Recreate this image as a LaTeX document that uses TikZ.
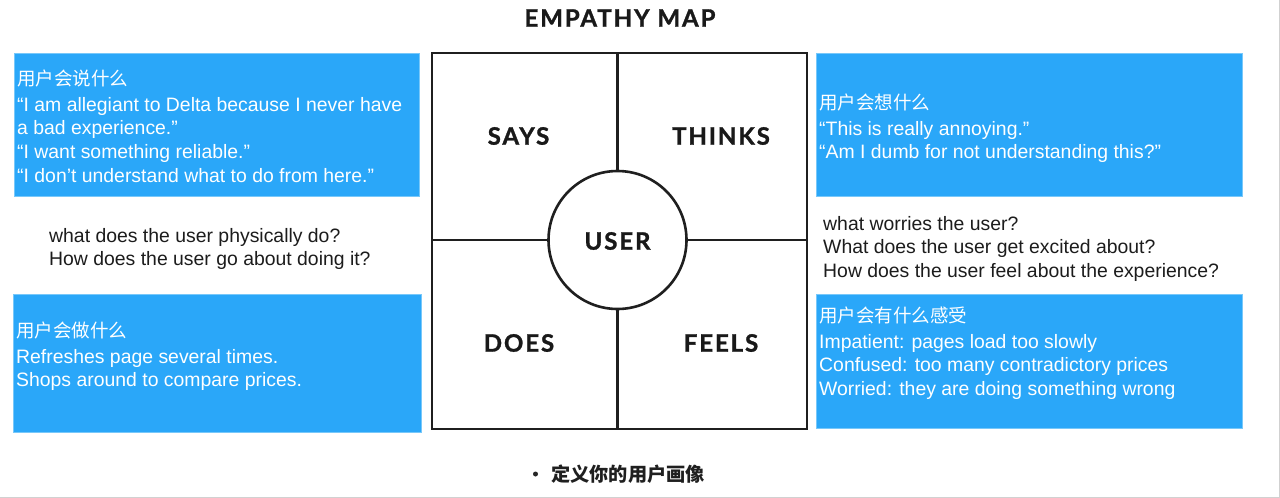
\documentclass[tikz,border=0pt]{standalone}
\usepackage{fontspec}
\setmainfont{Liberation Sans}
\newfontfamily\cjk{Noto Sans CJK SC}
\newfontfamily\labelfont{Lato}[LetterSpace=8, BoldFeatures={FakeBold=1.2}]
\definecolor{boxblue}{RGB}{42,167,249}
\definecolor{boxedge}{RGB}{120,200,250}
\definecolor{textgray}{RGB}{28,28,28}
\begin{document}
\begin{tikzpicture}[x=1pt,y=-1pt,
  bluebox/.style={fill=boxblue, draw=boxedge, line width=0.8pt, anchor=north west, inner sep=0pt},
  boxtext/.style={anchor=north west, inner sep=0pt, align=left, text=white, font=\fontsize{19.4}{23.7}\selectfont},
  graytext/.style={anchor=north west, inner sep=0pt, align=left, text=textgray, font=\fontsize{19.4}{23.6}\selectfont},
  quadlabel/.style={font=\labelfont\bfseries\fontsize{24}{24}\selectfont, text=black!90, inner sep=0pt},
  gridline/.style={line width=2.6pt, draw=black!88}
]
\useasboundingbox (0,0) rectangle (1280,498);
\fill[white] (0,0) rectangle (1280,498);
\draw[black!18, line width=1pt] (0,497) -- (1279,497) -- (1279,0);

% title
\node[quadlabel] (title) at (620,18) {EMPATHY MAP};

% blue boxes
\node[bluebox, minimum width=405pt, minimum height=143pt] (saysbox) at (14,53) {};
\node[bluebox, minimum width=408pt, minimum height=138pt] (doesbox) at (13,294) {};
\node[bluebox, minimum width=426pt, minimum height=143pt] (thinksbox) at (816,53) {};
\node[bluebox, minimum width=426pt, minimum height=134pt] (feelsbox) at (816,294) {};

% box texts (first-line strut of 20pt -> node top = baseline - 20)
\node[boxtext] (saystext) at (17,65.5) {\rule{0pt}{20pt}{\cjk\fontsize{18.5}{18.5}\selectfont 用户会说什么}\\[1.6pt]
“I am allegiant to Delta because I never have\\
a bad experience.”\\
“I want something reliable.”\\
“I don’t understand what to do from here.”};

\node[boxtext] (thinkstext) at (819,89.5) {\rule{0pt}{20pt}{\cjk\fontsize{18.5}{18.5}\selectfont 用户会想什么}\\[1.6pt]
“This is really annoying.”\\
“Am I dumb for not understanding this?”};

\node[boxtext] (doestext) at (16,317.5) {\rule{0pt}{20pt}{\cjk\fontsize{18.5}{18.5}\selectfont 用户会做什么}\\[1.6pt]
Refreshes page several times.\\
Shops around to compare prices.};

\node[boxtext] (feelstext) at (819,302.5) {\rule{0pt}{20pt}{\cjk\fontsize{18.5}{18.5}\selectfont 用户会有什么感受}\\[1.6pt]
Impatient: pages load too slowly\\
Confused: too many contradictory prices\\
Worried: they are doing something wrong};

% gray question texts
\node[graytext] (doesq) at (49,222) {\rule{0pt}{20pt}what does the user physically do?\\
How does the user go about doing it?};
\node[graytext] (feelsq) at (823,210) {\rule{0pt}{20pt}what worries the user?\\
What does the user get excited about?\\
How does the user feel about the experience?};

% empathy map grid
\node[gridline, draw, rectangle, minimum width=375pt, minimum height=376pt, inner sep=0pt] (grid) at (619.5,241) {};
\node[gridline, draw, circle, minimum size=138pt, inner sep=0pt, fill=white] (user) at (617.5,240) {};
\draw[gridline] (user.north) -- (user.north |- grid.north);
\draw[gridline] (user.south) -- (user.south |- grid.south);
\draw[gridline] (user.west) -- (user.west -| grid.west);
\draw[gridline] (user.east) -- (user.east -| grid.east);

\node[quadlabel] (userlabel) at (617.5,241) {USER};
\node[quadlabel] (says) at (518.5,136) {SAYS};
\node[quadlabel] (thinks) at (721,136) {THINKS};
\node[quadlabel] (does) at (519,343) {DOES};
\node[quadlabel] (feels) at (721,343) {FEELS};

% bottom bullet
\node[circle, fill=black!85, inner sep=0pt, minimum size=5pt] (bullet) at (535.5,474) {};
\node[anchor=west, inner sep=0pt, text=black!88, font=\cjk\bfseries\fontsize{19.2}{19.2}\selectfont] (persona) at (551,474.5) {定义你的用户画像};
\end{tikzpicture}
\end{document}
